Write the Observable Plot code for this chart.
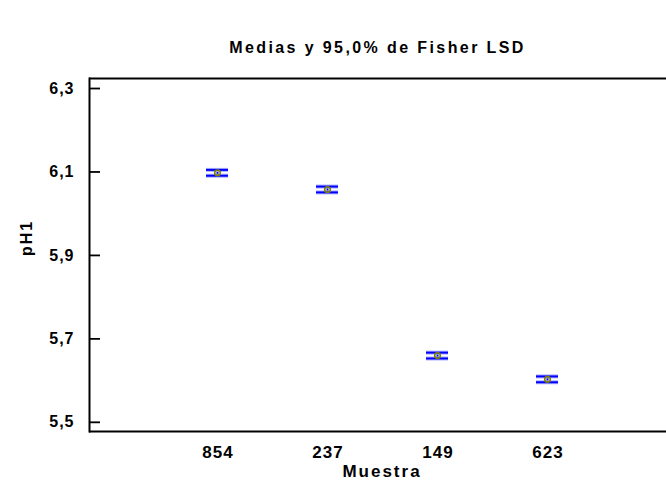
<!DOCTYPE html>
<html>
<head>
<meta charset="utf-8">
<script src="https://cdn.jsdelivr.net/npm/d3@7"></script>
<script src="https://cdn.jsdelivr.net/npm/@observablehq/plot@0.6"></script>
<style>
  html, body { margin: 0; padding: 0; background: #fff; }
  #wrap { width: 666px; height: 486px; position: relative; font-family: "Liberation Sans", Arial, sans-serif; }
  #title { height: 64px; box-sizing: border-box; padding-top: 39px; padding-left: 89px; text-align: center;
           font-weight: bold; font-size: 16px; letter-spacing: 2.4px; line-height: 18px; color: #000; }
  #chart svg text { letter-spacing: 1px; }
  #chart svg g.ax-title text { letter-spacing: 2px; }
</style>
</head>
<body>
<div id="wrap">
  <div id="title">Medias y 95,0% de Fisher LSD</div>
  <div id="chart"></div>
</div>
<script>
const categories = ["854", "237", "149", "623"];
const means = [6.098, 6.058, 5.660, 5.603];
const halfWidth = [0.007, 0.007, 0.007, 0.007];
const yTicks = [5.5, 5.7, 5.9, 6.1, 6.3];
const yDomain = [5.478, 6.324];
const xTitle = "Muestra";
const yTitle = "pH1";

const data = categories.map((c, i) => ({
  cat: c, mean: means[i], lo: means[i] - halfWidth[i], hi: means[i] + halfWidth[i]
}));

const fmt = d => d3.format(".1f")(d).replace(".", ",");

const chart = Plot.plot({
  width: 666,
  height: 422,
  marginTop: 14,
  marginBottom: 55,
  marginLeft: 89,
  marginRight: 0,
  style: { fontFamily: "'Liberation Sans', Arial, sans-serif", fontWeight: "bold", fontSize: "17px", color: "#000", background: "#fff" },
  x: { type: "band", domain: categories, paddingInner: 0.801, paddingOuter: 1.0075, align: 0.52 },
  y: { domain: yDomain },
  marks: [
    Plot.axisX({ tickSize: 0, tickPadding: 14, fontSize: 17, label: null, dx: 0.5 }),
    Plot.axisY({ ticks: yTicks, tickFormat: fmt, tickSize: -11, tickPadding: 26, strokeWidth: 1.8, fontSize: 16, label: null }),
    Plot.text([yTitle], { frameAnchor: "left", rotate: -90, dx: -63, dy: 1, fontSize: 16, fontWeight: "bold", className: "ax-title" }),
    Plot.text([xTitle], { frameAnchor: "bottom", dx: 4, dy: 45, fontSize: 17, fontWeight: "bold", className: "ax-title" }),
    Plot.ruleY([yDomain[0], yDomain[1]], { stroke: "#000", strokeWidth: 2 }),
    Plot.frame({ anchor: "left", stroke: "#000", strokeWidth: 2 }),
    Plot.ruleX(data, { x: "cat", y1: "lo", y2: "hi", stroke: "#0000ff", strokeWidth: 2 }),
    Plot.tickY(data, { x: "cat", y: "lo", stroke: "#aab0ff", strokeWidth: 4 }),
    Plot.tickY(data, { x: "cat", y: "hi", stroke: "#aab0ff", strokeWidth: 4 }),
    Plot.tickY(data, { x: "cat", y: "lo", stroke: "#0000ff", strokeWidth: 2 }),
    Plot.tickY(data, { x: "cat", y: "hi", stroke: "#0000ff", strokeWidth: 2 }),
    Plot.dot(data, { x: "cat", y: "mean", r: 2.8, stroke: "#808000", strokeWidth: 1.6, fill: "none" })
  ]
});
document.getElementById("chart").appendChild(chart);
</script>
</body>
</html>
